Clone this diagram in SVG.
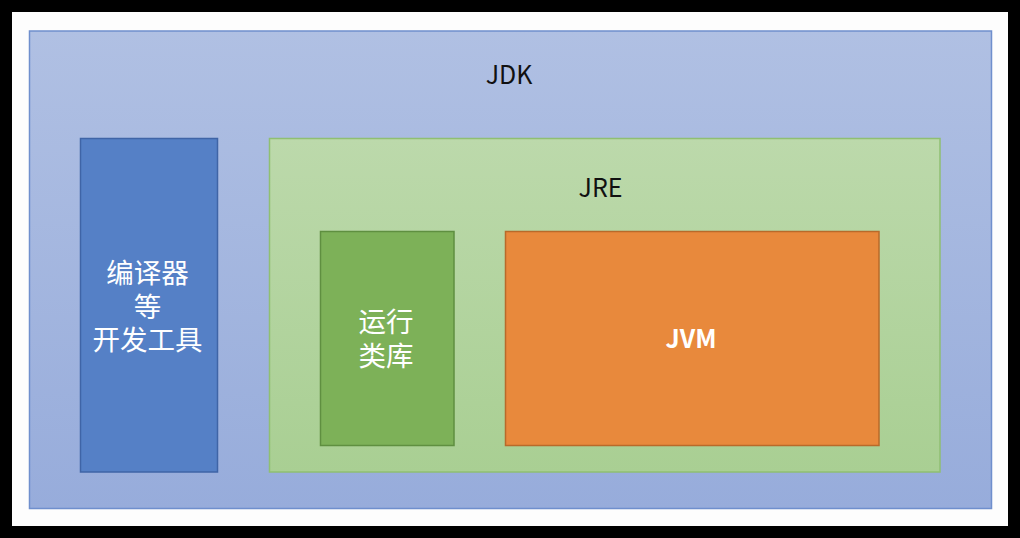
<svg xmlns="http://www.w3.org/2000/svg" width="1020" height="538" viewBox="0 0 1020 538">
<defs>
<linearGradient id="gJdk" x1="0" y1="0" x2="0" y2="1"><stop offset="0" stop-color="#b0c0e3"/><stop offset="1" stop-color="#97acdb"/></linearGradient>
<linearGradient id="gJre" x1="0" y1="0" x2="0" y2="1"><stop offset="0" stop-color="#bcd9ab"/><stop offset="1" stop-color="#a9cf93"/></linearGradient>
<style>
.lbl{font-family:"Noto Sans CJK SC","Noto Sans",sans-serif;text-anchor:middle}
.cn{font-size:27.5px}
.en{font-size:25px}
.w{fill:#ffffff}
.d{fill:#111111}
</style>
</defs>
<rect x="0" y="0" width="1020" height="538" fill="#000"/>
<rect x="12" y="12" width="996" height="514" fill="#fdfdfd"/>
<g id="jdk">
<rect x="29.5" y="31" width="962" height="477.5" fill="url(#gJdk)" stroke="#6f8fcd" stroke-width="1.5"/>
<text class="lbl en d" x="509" y="84">JDK</text>
</g>
<g id="tools">
<rect x="80.5" y="138.5" width="137" height="333.5" fill="#5580c6" stroke="#3f64a6" stroke-width="1.5"/>
<text class="lbl cn w" x="147.5" y="283">编译器</text>
<text class="lbl cn w" x="147.5" y="317">等</text>
<text class="lbl cn w" x="147.5" y="350">开发工具</text>
</g>
<g id="jre">
<rect x="269.5" y="138.5" width="670.5" height="333.5" fill="url(#gJre)" stroke="#8fbf72" stroke-width="1.5"/>
<text class="lbl en d" x="600.5" y="197">JRE</text>
</g>
<g id="lib">
<rect x="320.5" y="231.5" width="133.5" height="214" fill="#7db158" stroke="#5f8f40" stroke-width="1.5"/>
<text class="lbl cn w" x="386" y="332">运行</text>
<text class="lbl cn w" x="386" y="366">类库</text>
</g>
<g id="jvm">
<rect x="505.5" y="231.5" width="373.5" height="214" fill="#e8893c" stroke="#b86a2a" stroke-width="1.5"/>
<text class="lbl en w" x="691" y="348" font-weight="600">JVM</text>
</g>
<g id="connectors"></g>
</svg>
